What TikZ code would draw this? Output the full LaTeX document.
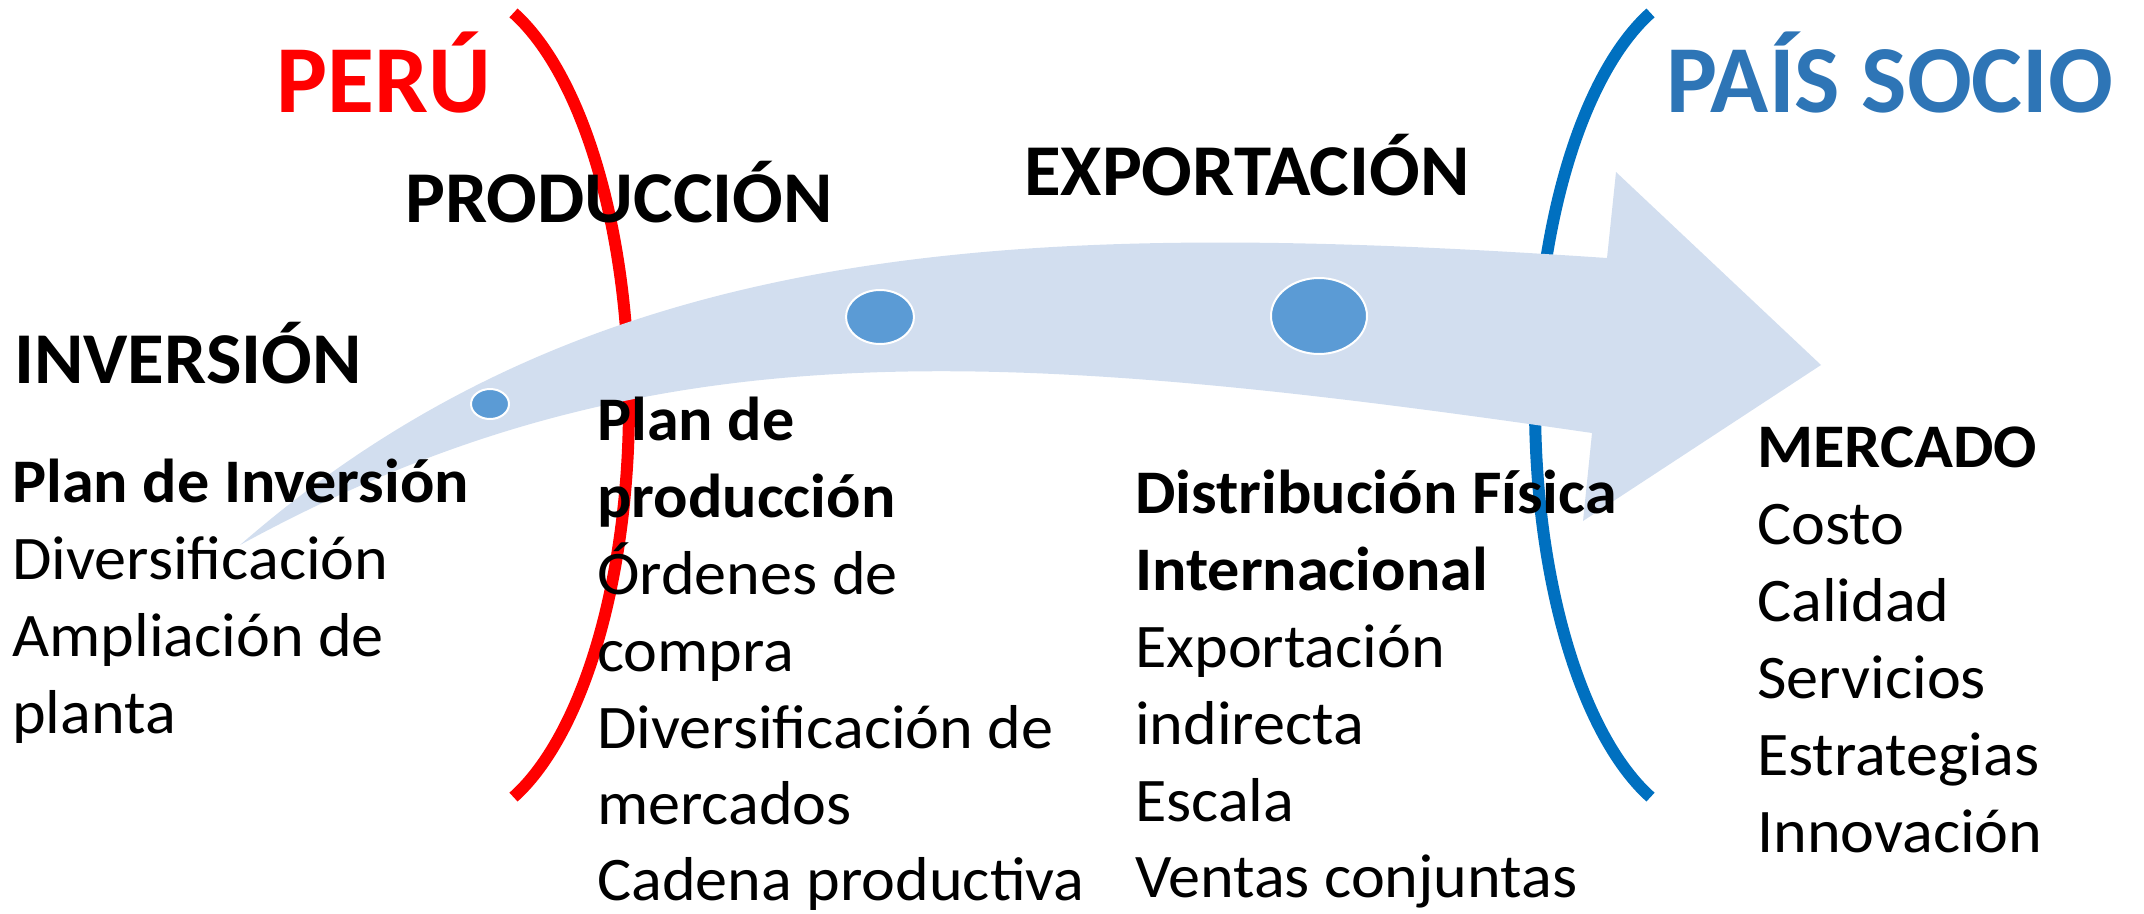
\documentclass[tikz,border=0pt]{standalone}
\usepackage{fontspec}
\setmainfont{Carlito}
\newfontfamily\bodyfont{Carlito}[FakeStretch=1.035]
\newfontfamily\stagefont{Carlito}[FakeStretch=1.027]
\definecolor{perured}{HTML}{FF0000}
\definecolor{arcblue}{HTML}{0070C0}
\definecolor{sociotext}{HTML}{2E75B6}
\definecolor{arrowfill}{HTML}{D2DEEF}
\definecolor{dotblue}{HTML}{5B9BD5}
\begin{document}
\begin{tikzpicture}[x=1pt,y=-1pt,
  body/.style={anchor=base west, inner sep=0pt, font=\bodyfont\fontsize{62}{77}\selectfont},
  bodyb/.style={anchor=base west, inner sep=0pt, font=\bodyfont\fontsize{62}{77}\selectfont\bfseries},
  stage/.style={anchor=base west, inner sep=0pt, font=\stagefont\fontsize{73}{88}\selectfont\bfseries},
  country/.style={anchor=base west, inner sep=0pt, font=\fontsize{96}{115}\selectfont\bfseries},
  dot/.style={fill=dotblue, draw=white, line width=2pt},
  borderarc/.style={line width=12pt}]
\useasboundingbox (0,0) rectangle (2144,913);
% border arcs
\draw[borderarc, perured] plot[domain=-69:69, samples=90, smooth] ({449+180*cos(\x)},{405+420*sin(\x)});
\draw[borderarc, arcblue] plot[domain=111:249, samples=90, smooth] ({1715+180*cos(\x)},{405+420*sin(\x)});
% big curved arrow
\fill[arrowfill] (240,545) .. controls (597,233.5) and (1028,219) .. (1607,258)
  -- (1616,172) -- (1821,365) -- (1583,521) -- (1592,433)
  .. controls (974,343) and (636,329) .. (240,545) -- cycle;
% dots
\draw[dot] (490,404) ellipse [x radius=19pt, y radius=15pt];
\draw[dot] (880,317) ellipse [x radius=34pt, y radius=27pt];
\draw[dot] (1319,316) ellipse [x radius=48pt, y radius=38pt];
% countries
\node[country, text=perured] (peru) at (276,112) {PERÚ};
\node[country, text=sociotext] (socio) at (1666,112) {PAÍS SOCIO};
% stages
\node[stage] (inv) at (14,383) {INVERSIÓN};
\node[stage] (prod) at (405,222) {PRODUCCIÓN};
\node[stage] (expo) at (1024,195) {EXPORTACIÓN};
% inversion block
\node[bodyb] (i1) at (12,502) {Plan de Inversión};
\node[body] (i2) at (12,579) {Diversificación};
\node[body] (i3) at (12,656) {Ampliación de};
\node[body] (i4) at (12,733) {planta};
% production block
\node[bodyb] (p1) at (597,440) {Plan de};
\node[bodyb] (p2) at (597,517) {producción};
\node[body] (p3) at (597,594) {Órdenes de};
\node[body] (p4) at (597,671) {compra};
\node[body] (p5) at (597,748) {Diversificación de};
\node[body] (p6) at (597,824) {mercados};
\node[body] (p7) at (597,900) {Cadena productiva};
% export block
\node[bodyb] (e1) at (1135,513) {Distribución Física};
\node[bodyb] (e2) at (1135,590) {Internacional};
\node[body] (e3) at (1135,667) {Exportación};
\node[body] (e4) at (1135,744) {indirecta};
\node[body] (e5) at (1135,821) {Escala};
\node[body] (e6) at (1135,897) {Ventas conjuntas};
% market block
\node[bodyb] (m1) at (1757,467) {MERCADO};
\node[body] (m2) at (1757,544) {Costo};
\node[body] (m3) at (1757,621) {Calidad};
\node[body] (m4) at (1757,698) {Servicios};
\node[body] (m5) at (1757,775) {Estrategias};
\node[body] (m6) at (1757,852) {Innovación};
\end{tikzpicture}
\end{document}
